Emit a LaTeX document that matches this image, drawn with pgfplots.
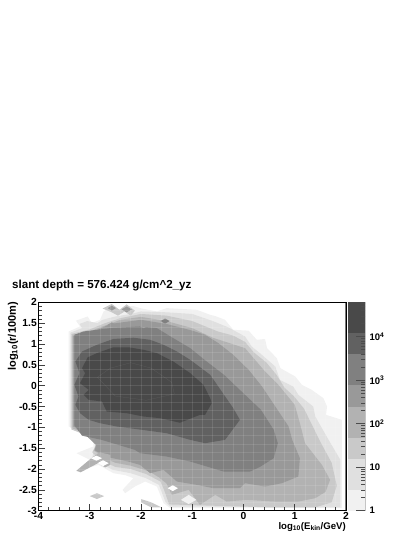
\documentclass[border=0pt]{standalone}
\usepackage{fontspec}
\setmainfont{Liberation Sans}
\usepackage{pgfplots}
\pgfplotsset{compat=1.18}
\definecolor{g1}{gray}{0.945}
\definecolor{g2}{gray}{0.88}
\definecolor{g3}{gray}{0.79}
\definecolor{g4}{gray}{0.70}
\definecolor{g5}{gray}{0.60}
\definecolor{g6}{gray}{0.50}
\definecolor{g7}{gray}{0.38}
\definecolor{g8}{gray}{0.285}
\newcommand{\lf}{\fontsize{10.3}{11}\selectfont\bfseries}
\newcommand{\cf}{\fontsize{9.5}{11}\selectfont\bfseries}
\begin{document}
\begin{tikzpicture}[x=1pt,y=1pt,font=\lf]
\path[use as bounding box] (0,0) rectangle (415,537);
\begin{axis}[
  at={(38.5pt,26.3pt)},anchor=south west,scale only axis,width=307.5pt,height=208.4pt,
  xmin=-4,xmax=2,ymin=-3,ymax=2,
  axis on top,
  xtick={-4,-3,-2,-1,0,1,2},xticklabels={-4,-3,-2,-1,0,1,2},
  ytick={-3,-2.5,-2,-1.5,-1,-0.5,0,0.5,1,1.5,2},
  yticklabels={-3,-2.5,-2,-1.5,-1,-0.5,0,0.5,1,1.5,2},
  minor xtick={-3.8,-3.6,-3.4,-3.2,-2.8,-2.6,-2.4,-2.2,-1.8,-1.6,-1.4,-1.2,-0.8,-0.6,-0.4,-0.2,0.2,0.4,0.6,0.8,1.2,1.4,1.6,1.8},
  minor ytick={-2.9,-2.8,-2.7,-2.6,-2.4,-2.3,-2.2,-2.1,-1.9,-1.8,-1.7,-1.6,-1.4,-1.3,-1.2,-1.1,-0.9,-0.8,-0.7,-0.6,-0.4,-0.3,-0.2,-0.1,0.1,0.2,0.3,0.4,0.6,0.7,0.8,0.9,1.1,1.2,1.3,1.4,1.6,1.7,1.8,1.9},
  tick align=inside,xtick pos=bottom,ytick pos=left,
  major tick length=6.5pt,minor tick length=3.3pt,
  every tick/.style={draw=black!75,line width=0.6pt},
  axis line style={draw=black,line width=0.7pt},
  tick label style={font=\lf},
  xticklabel style={yshift=-0.5pt,inner sep=1pt},
  yticklabel style={inner sep=1.5pt},
  clip=true,
]
% band 1
\addplot[fill=g1,draw=none] coordinates {(-3.41,-0.98)(-3.41,1.30)(-3.19,1.42)(-3.27,1.56)(-3.04,1.66)(-2.96,1.50)(-2.80,1.58)(-2.73,1.78)(-2.54,1.94)(-2.44,1.80)(-2.31,1.91)(-2.15,1.91)(-1.98,1.85)(-1.69,1.78)(-1.50,1.86)(-0.91,1.82)(-0.65,1.70)(-0.55,1.67)(-0.36,1.58)(-0.20,1.34)(0.10,1.32)(0.26,1.10)(0.42,1.12)(0.46,0.90)(0.65,0.66)(0.72,0.42)(1.01,0.22)(1.14,0.02)(1.33,-0.10)(1.56,-0.30)(1.63,-0.50)(1.61,-0.70)(1.92,-0.82)(1.92,-2.94)(-1.43,-2.94)(-1.56,-2.82)(-1.69,-2.42)(-1.92,-2.30)(-2.12,-2.42)(-2.31,-2.58)(-2.36,-2.50)(-2.15,-2.22)(-2.30,-2.15)(-2.54,-2.10)(-2.83,-1.90)(-3.26,-2.06)(-3.0,-1.78)(-3.26,-1.62)(-2.93,-1.46)(-2.93,-1.30)(-3.12,-1.14)} -- cycle;
% band 2
\addplot[fill=g2,draw=none] coordinates {(-3.38,-1.0)(-3.38,1.27)(-3.15,1.38)(-3.2,1.48)(-3.05,1.55)(-2.85,1.5)(-2.75,1.58)(-2.5,1.66)(-2.2,1.72)(-2.0,1.78)(-1.5,1.76)(-1.0,1.72)(-0.6,1.55)(-0.3,1.40)(0.03,1.18)(0.16,0.94)(0.32,0.78)(0.62,0.46)(0.71,0.14)(0.97,-0.02)(1.07,-0.22)(1.36,-0.50)(1.40,-0.74)(1.66,-1.30)(1.89,-1.78)(1.89,-2.92)(-1.43,-2.90)(-1.52,-2.80)(-1.65,-2.38)(-1.9,-2.22)(-2.2,-2.1)(-2.55,-2.02)(-2.8,-1.86)(-2.95,-1.72)(-2.9,-1.45)(-2.9,-1.32)(-3.1,-1.15)} -- cycle;
% band 3
\addplot[fill=g3,draw=none] coordinates {(-3.36,-1.05)(-3.36,1.24)(-3.0,1.35)(-2.7,1.5)(-2.4,1.62)(-2.0,1.72)(-1.5,1.68)(-1.0,1.55)(-0.5,1.30)(-0.2,1.2)(0.03,1.05)(0.20,0.80)(0.45,0.55)(0.65,0.25)(0.80,-0.05)(0.98,-0.25)(1.18,-0.55)(1.3,-0.85)(1.5,-1.35)(1.72,-1.85)(1.82,-2.4)(1.72,-2.8)(1.4,-2.92)(0.5,-2.92)(-0.6,-2.88)(-1.45,-2.85)(-1.55,-2.5)(-1.62,-2.3)(-1.9,-2.12)(-2.2,-2.0)(-2.5,-1.95)(-2.8,-1.78)(-2.95,-1.6)(-2.88,-1.42)(-2.95,-1.28)(-3.15,-1.15)} -- cycle;
% band 4
\addplot[fill=g4,draw=none] coordinates {(-3.34,-1.02)(-3.34,1.22)(-3.0,1.3)(-2.75,1.42)(-2.4,1.58)(-2.0,1.65)(-1.5,1.55)(-1.0,1.38)(-0.6,1.15)(0.03,0.90)(0.42,0.34)(0.68,0.02)(1.0,-0.46)(1.1,-0.9)(1.2,-1.38)(1.53,-1.90)(1.69,-2.26)(1.60,-2.55)(1.40,-2.70)(1.07,-2.78)(0.6,-2.78)(0.06,-2.74)(-0.33,-2.78)(-0.55,-2.62)(-0.85,-2.86)(-1.07,-2.5)(-1.4,-2.62)(-1.5,-2.35)(-1.65,-2.2)(-1.85,-2.05)(-2.2,-1.92)(-2.5,-1.85)(-2.75,-1.72)(-2.92,-1.55)(-2.86,-1.42)(-3.0,-1.26)(-3.15,-1.12)} -- cycle;
% band 5
\addplot[fill=g5,draw=none] coordinates {(-3.32,-0.98)(-3.32,1.2)(-3.0,1.25)(-2.6,1.48)(-2.0,1.58)(-1.5,1.48)(-1.0,1.32)(-0.75,1.22)(-0.49,1.02)(-0.20,0.74)(0.10,0.38)(0.36,-0.02)(0.62,-0.50)(0.88,-0.98)(0.95,-1.3)(1.10,-1.74)(1.07,-2.18)(0.75,-2.34)(0.42,-2.42)(0.03,-2.34)(-0.07,-2.46)(-0.59,-2.46)(-0.91,-2.38)(-1.30,-2.30)(-1.56,-2.02)(-1.82,-2.10)(-2.02,-1.90)(-2.25,-1.82)(-2.70,-1.70)(-2.9,-1.55)(-2.88,-1.42)(-3.0,-1.28)(-3.15,-1.1)} -- cycle;
% band 6
\addplot[fill=g6,draw=none] coordinates {(-3.30,-0.95)(-3.30,1.22)(-3.12,1.30)(-2.6,1.38)(-2.02,1.42)(-1.69,1.38)(-1.37,1.14)(-1.04,0.90)(-0.72,0.58)(-0.38,0.26)(0.03,-0.22)(0.34,-0.58)(0.59,-1.06)(0.67,-1.38)(0.59,-1.74)(0.32,-1.95)(0.13,-2.06)(-0.39,-2.06)(-1.04,-1.82)(-1.50,-1.70)(-2.02,-1.62)(-2.12,-1.54)(-2.77,-1.30)(-3.15,-1.2)} -- cycle;
% band 7
\addplot[fill=g7,draw=none] coordinates {(-3.28,-0.46)(-3.22,-0.26)(-3.30,0.02)(-3.20,0.30)(-3.28,0.58)(-3.15,0.82)(-2.86,0.98)(-2.54,1.12)(-2.15,1.15)(-1.82,1.10)(-1.56,0.98)(-1.30,0.82)(-1.04,0.62)(-0.65,0.26)(-0.20,-0.54)(-0.07,-0.82)(-0.36,-1.30)(-0.75,-1.38)(-1.04,-1.30)(-1.50,-1.14)(-1.98,-1.06)(-2.47,-0.98)(-2.80,-0.90)(-3.02,-0.82)(-3.19,-0.66)} -- cycle;
% band 8
\addplot[fill=g8,draw=none] coordinates {(-3.19,0.06)(-3.09,0.30)(-3.15,0.42)(-3.04,0.68)(-2.86,0.78)(-2.54,0.92)(-2.24,0.92)(-1.95,0.86)(-1.69,0.78)(-1.37,0.58)(-1.04,0.30)(-0.78,0.02)(-0.65,-0.30)(-0.62,-0.42)(-0.75,-0.70)(-0.85,-0.70)(-1.24,-0.89)(-1.63,-0.78)(-1.95,-0.74)(-2.28,-0.66)(-2.67,-0.62)(-2.76,-0.38)(-3.02,-0.34)(-3.12,-0.22)(-3.02,-0.10)} -- cycle;
% blobs
\addplot[fill=g3,draw=none] coordinates {(-2.75,1.85)(-2.57,1.96)(-2.42,1.82)(-2.28,1.95)(-2.12,1.8)(-2.2,1.68)(-2.32,1.78)(-2.45,1.68)(-2.57,1.76)} -- cycle;
\addplot[fill=g5,draw=none] coordinates {(-2.65,1.86)(-2.57,1.92)(-2.49,1.86)(-2.57,1.8)} -- cycle;
\addplot[fill=g5,draw=none] coordinates {(-2.38,1.83)(-2.28,1.9)(-2.18,1.83)(-2.28,1.76)} -- cycle;
\addplot[fill=g5,draw=none] coordinates {(-2.08,1.46)(-1.95,1.54)(-1.82,1.46)(-1.95,1.38)} -- cycle;
\addplot[fill=g6,draw=none] coordinates {(-1.62,1.55)(-1.53,1.61)(-1.44,1.55)(-1.53,1.49)} -- cycle;
\addplot[fill=g5,draw=none] coordinates {(-2.65,1.46)(-2.57,1.52)(-2.49,1.46)(-2.57,1.4)} -- cycle;
\addplot[fill=g7,draw=none] coordinates {(-2.35,1.03)(-2.28,1.08)(-2.21,1.03)(-2.28,0.98)} -- cycle;
\addplot[fill=g3,draw=none] coordinates {(-3.0,-2.65)(-2.86,-2.58)(-2.72,-2.65)(-2.86,-2.72)} -- cycle;
\addplot[fill=g3,draw=none] coordinates {(-2.0,-2.72)(-1.8,-2.8)(-1.6,-2.92)(-1.8,-2.92)(-2.0,-2.8)} -- cycle;
% arms and holes
\addplot[fill=g4,draw=none] coordinates {(-3.26,-2.04)(-2.95,-1.72)(-2.8,-1.6)(-2.6,-1.66)(-2.6,-1.9)(-2.7,-1.96)(-2.84,-1.86)(-3.18,-2.08)} -- cycle;
\addplot[fill=white,draw=none] coordinates {(-2.98,-1.74)(-2.87,-1.68)(-2.76,-1.74)(-2.87,-1.8)} -- cycle;
\addplot[fill=white,draw=none] coordinates {(-2.85,-1.86)(-2.74,-1.79)(-2.63,-1.86)(-2.74,-1.93)} -- cycle;
\addplot[fill=white,draw=none] coordinates {(-1.48,-2.46)(-1.38,-2.39)(-1.28,-2.46)(-1.38,-2.53)} -- cycle;
\addplot[fill=g1,draw=none] coordinates {(-1.22,-2.74)(-1.07,-2.62)(-0.92,-2.74)(-1.07,-2.84)} -- cycle;
% faint inner contour
\addplot[draw=black!60,line width=0.25pt,draw opacity=0.6] coordinates {(-2.85,0.2)(-2.6,0.42)(-2.2,0.55)(-1.8,0.42)(-1.4,0.08)(-1.35,-0.2)(-1.9,-0.35)(-2.5,-0.25)(-2.85,0.2)};
% grid
\pgfplotsinvokeforeach{-3.8,-3.6,-3.4,-3.2,-3,-2.8,-2.6,-2.4,-2.2,-2,-1.8,-1.6,-1.4,-1.2,-1,-0.8,-0.6,-0.4,-0.2,0,0.2,0.4,0.6,0.8,1,1.2,1.4,1.6,1.8}{
  \draw[white,opacity=0.11,line width=0.9pt] (axis cs:#1,-3) -- (axis cs:#1,2);
}
\pgfplotsinvokeforeach{-2.8,-2.6,-2.4,-2.2,-2,-1.8,-1.6,-1.4,-1.2,-1,-0.8,-0.6,-0.4,-0.2,0,0.2,0.4,0.6,0.8,1,1.2,1.4,1.6,1.8}{
  \draw[white,opacity=0.11,line width=0.9pt] (axis cs:-4,#1) -- (axis cs:2,#1);
}
% right side frame
\draw[draw=black!52,line width=1.6pt] (axis cs:2,-3) -- (axis cs:2,2);
\draw[draw=black!60,line width=1pt] (axis cs:-4,-3) -- (axis cs:2,-3);
\end{axis}
\begin{axis}[
  at={(347.7pt,26.3pt)},anchor=south west,scale only axis,width=17.6pt,height=208.4pt,
  xmin=0,xmax=1,ymode=log,ymin=1,ymax=61700,
  xtick=\empty,ytick={1,10,100,1000,10000},
  yticklabels={1,10,10\textsuperscript{2},10\textsuperscript{3},10\textsuperscript{4}},
  minor ytick={2,3,4,5,6,7,8,9,20,30,40,50,60,70,80,90,200,300,400,500,600,700,800,900,2000,3000,4000,5000,6000,7000,8000,9000,20000,30000,40000,50000,60000},
  ytick pos=right,tick align=inside,
  major tick length=9pt,minor tick length=4.5pt,
  every tick/.style={draw=black!70,line width=0.6pt},
  axis line style={draw=none},
  axis on top,
  tick label style={font=\cf},
  yticklabel style={inner sep=1.5pt,xshift=2.5pt},
  log basis y=10,
]
\addplot[fill=g1,draw=none] coordinates {(0,1)(1,1)(1,3.04)(0,3.04)} -- cycle;
\addplot[fill=g2,draw=none] coordinates {(0,3.04)(1,3.04)(1,15.7)(0,15.7)} -- cycle;
\addplot[fill=g3,draw=none] coordinates {(0,15.7)(1,15.7)(1,47.7)(0,47.7)} -- cycle;
\addplot[fill=g4,draw=none] coordinates {(0,47.7)(1,47.7)(1,246)(0,246)} -- cycle;
\addplot[fill=g5,draw=none] coordinates {(0,246)(1,246)(1,790)(0,790)} -- cycle;
\addplot[fill=g6,draw=none] coordinates {(0,790)(1,790)(1,4060)(0,4060)} -- cycle;
\addplot[fill=g7,draw=none] coordinates {(0,4060)(1,4060)(1,12300)(0,12300)} -- cycle;
\addplot[fill=g8,draw=none] coordinates {(0,12300)(1,12300)(1,61700)(0,61700)} -- cycle;
\draw[draw=black!65,line width=0.8pt] (axis cs:1,1) -- (axis cs:1,61700);
\end{axis}
\node[anchor=west,inner sep=0pt,font=\fontsize{11.6}{13}\selectfont\bfseries] at (12,251) {slant depth = 576.424 g/cm\textasciicircum 2\_yz};
\node[anchor=east,rotate=90,inner sep=0pt,font=\fontsize{11}{12}\selectfont\bfseries] at (13,235) {log\textsubscript{10}(r/100m)};
\node[anchor=east,inner sep=0pt,font=\fontsize{9.6}{11}\selectfont\bfseries] at (346,10) {log\textsubscript{10}(E\textsubscript{kin}/GeV)};
\end{tikzpicture}
\end{document}
